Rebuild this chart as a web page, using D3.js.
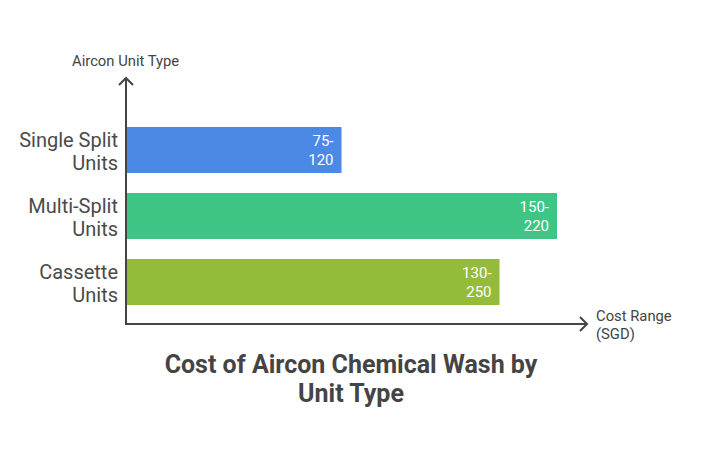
<!DOCTYPE html>
<html>
<head>
<meta charset="utf-8">
<script src="https://cdn.jsdelivr.net/npm/d3@7"></script>
<style>
  body { margin: 0; background: #fff; }
  text { font-family: Roboto, "Open Sans", sans-serif; }
</style>
</head>
<body>
<div id="chart"></div>
<script>
(function () {

    /* data */
    var categories = [["Single Split", "Units"], ["Multi-Split", "Units"], ["Cassette", "Units"]];
    var lowValues = [75, 150, 130];
    var highValues = [120, 220, 250];
    var barColors = ["#4C88E5", "#3EC585", "#94BC3A"];
    var titleLines = ["Cost of Aircon Chemical Wash by", "Unit Type"];

    var width = 702, height = 456;
    var x0 = 126, yTop = 78, yBottom = 324, xRight = 587;

    var data = categories.map(function (c, i) {
        return { name: c, low: lowValues[i], high: highValues[i], color: barColors[i] };
    });

    var svg = d3.select("#chart").append("svg")
        .attr("width", width)
        .attr("height", height);

    // bars are drawn to the low end of the range
    var x = d3.scaleLinear()
        .domain([0, 150])
        .range([x0, 557]);

    var y = d3.scaleBand()
        .domain(d3.range(data.length))
        .range([117, 315])
        .paddingInner(20 / 66)
        .paddingOuter(10 / 66);

    var axisColor = "#444";

    svg.selectAll(".bar")
        .data(data)
        .enter().append("rect")
        .attr("class", "bar")
        .attr("x", x0)
        .attr("y", function (d, i) { return y(i); })
        .attr("width", function (d) { return x(d.low) - x0; })
        .attr("height", y.bandwidth())
        .attr("fill", function (d) { return d.color; });

    // value labels, two lines, inside the bar end
    var vals = svg.selectAll(".val")
        .data(data)
        .enter().append("text")
        .attr("class", "val")
        .attr("text-anchor", "end")
        .attr("fill", "#fff")
        .style("font-size", "15px");
    vals.append("tspan")
        .attr("x", function (d) { return x(d.low) - 8; })
        .attr("y", function (d, i) { return y(i) + y.bandwidth() / 2 - 4; })
        .text(function (d) { return d.low + "-"; });
    vals.append("tspan")
        .attr("x", function (d) { return x(d.low) - 8; })
        .attr("y", function (d, i) { return y(i) + y.bandwidth() / 2 + 15; })
        .text(function (d) { return d.high; });

    // category labels
    var cats = svg.selectAll(".cat")
        .data(data)
        .enter().append("text")
        .attr("class", "cat")
        .attr("text-anchor", "end")
        .attr("fill", "#4a4a4a")
        .style("font-size", "20px");
    cats.append("tspan")
        .attr("x", 118)
        .attr("y", function (d, i) { return y(i) + y.bandwidth() / 2 - 3; })
        .text(function (d) { return d.name[0]; });
    cats.append("tspan")
        .attr("x", 118)
        .attr("y", function (d, i) { return y(i) + y.bandwidth() / 2 + 20; })
        .text(function (d) { return d.name[1]; });

    /* axes with arrow heads */
    svg.append("line")
        .attr("x1", x0).attr("y1", yBottom)
        .attr("x2", x0).attr("y2", yTop)
        .attr("stroke", axisColor).attr("stroke-width", 2);
    svg.append("path")
        .attr("d", "M" + (x0 - 7) + "," + (yTop + 7) + "L" + x0 + "," + yTop + "L" + (x0 + 7) + "," + (yTop + 7))
        .attr("fill", "none").attr("stroke", axisColor).attr("stroke-width", 2);

    svg.append("line")
        .attr("x1", x0 - 1).attr("y1", yBottom)
        .attr("x2", xRight).attr("y2", yBottom)
        .attr("stroke", axisColor).attr("stroke-width", 2);
    svg.append("path")
        .attr("d", "M" + (xRight - 7) + "," + (yBottom - 7) + "L" + xRight + "," + yBottom + "L" + (xRight - 7) + "," + (yBottom + 7))
        .attr("fill", "none").attr("stroke", axisColor).attr("stroke-width", 2);

    svg.append("text")
        .attr("x", 72).attr("y", 66)
        .attr("fill", "#444")
        .style("font-size", "14.8px")
        .text("Aircon Unit Type");

    var xl = svg.append("text")
        .attr("fill", "#444")
        .style("font-size", "14.8px");
    xl.append("tspan").attr("x", 596).attr("y", 321).text("Cost Range");
    xl.append("tspan").attr("x", 596).attr("y", 339).text("(SGD)");

    /* title */
    svg.append("text")
        .attr("text-anchor", "middle")
        .attr("fill", "#444")
        .style("font-size", "25px")
        .style("font-weight", "bold")
        .selectAll("tspan")
        .data(titleLines)
        .enter().append("tspan")
        .attr("x", 351)
        .attr("y", function (d, i) { return 373 + i * 29; })
        .text(function (d) { return d; });
})();
</script>
</body>
</html>
